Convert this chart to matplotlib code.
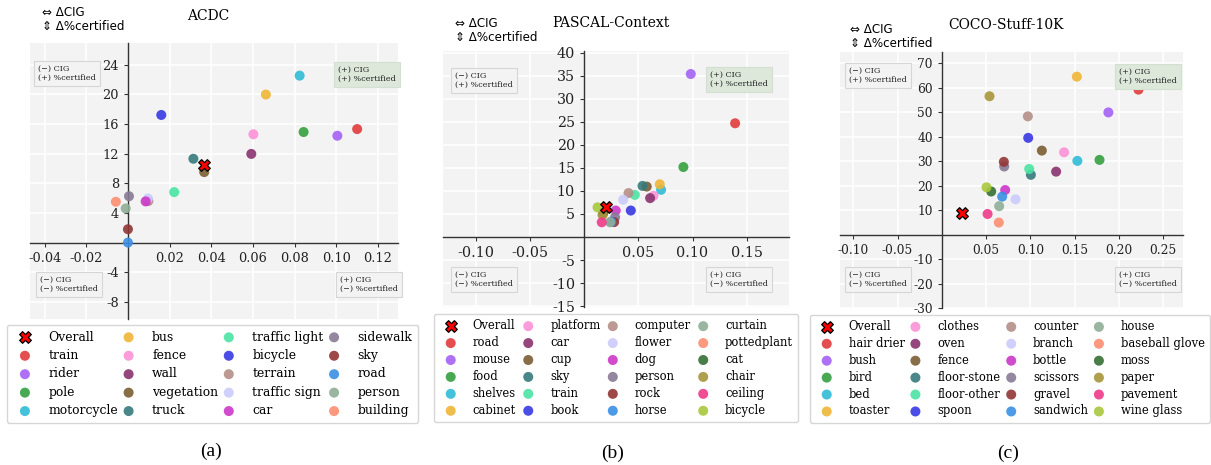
import matplotlib
matplotlib.use("Agg")
import matplotlib.pyplot as plt

plt.rcParams['axes.unicode_minus'] = False
plt.rcParams['font.family'] = ['DejaVu Serif']

# ---------------- data ----------------
palette = ["#e23b3b", "#a562f5", "#35a040", "#2fbcd6", "#efb536", "#fc92d8",
           "#8a336f", "#7b5e33", "#367a7c", "#4ae4a4", "#3838e4", "#b38f86",
           "#cccbfd", "#cc38c8", "#887a96", "#923535", "#3a8fe4", "#8fae96",
           "#fd8e70", "#357035", "#a8963a", "#ef3a8a", "#a8c83c"]

names_a = ["train", "rider", "pole", "motorcycle", "bus", "fence", "wall", "vegetation",
           "truck", "traffic light", "bicycle", "terrain", "traffic sign", "car",
           "sidewalk", "sky", "road", "person", "building"]
x_a = [0.110, 0.1005, 0.0843, 0.0824, 0.0662, 0.0602, 0.0592, 0.0366, 0.0314, 0.0222,
       0.016, 0.0098, 0.0096, 0.0085, 0.0005, 0.0, 0.0, -0.0011, -0.0058]
y_a = [15.3, 14.4, 14.9, 22.5, 19.95, 14.6, 11.95, 9.5, 11.3, 6.8, 17.2, 5.6, 5.95, 5.55,
       6.25, 1.8, 0.0, 4.6, 5.5]
overall_a = (0.0365, 10.45)

names_b = ["road", "mouse", "food", "shelves", "cabinet", "platform", "car", "cup", "sky",
           "train", "book", "computer", "flower", "dog", "person", "rock", "horse",
           "curtain", "pottedplant", "cat", "chair", "ceiling", "bicycle"]
x_b = [0.1393, 0.0984, 0.0916, 0.071, 0.0698, 0.064, 0.0609, 0.0578, 0.0539, 0.0468,
       0.0431, 0.041, 0.036, 0.0292, 0.0286, 0.0277, 0.025, 0.024, 0.0175, 0.0179,
       0.017, 0.0163, 0.0124]
y_b = [24.7, 35.4, 15.2, 10.25, 11.45, 8.95, 8.45, 10.95, 11.1, 9.15, 5.75, 9.55, 8.1,
       5.75, 4.3, 3.25, 3.3, 3.2, 5.0, 5.4, 4.8, 3.2, 6.45]
overall_b = (0.0203, 6.5)

names_c = ["hair drier", "bush", "bird", "bed", "toaster", "clothes", "oven", "fence",
           "floor-stone", "floor-other", "spoon", "counter", "branch", "bottle", "scissors",
           "gravel", "sandwich", "house", "baseball glove", "moss", "paper", "pavement",
           "wine glass"]
x_c = [0.222, 0.188, 0.178, 0.153, 0.1524, 0.138, 0.129, 0.1129, 0.1005, 0.0986, 0.0975,
       0.0971, 0.0832, 0.0715, 0.0704, 0.070, 0.0681, 0.0647, 0.0643, 0.0557, 0.0538,
       0.0516, 0.0504]
y_c = [59.2, 49.9, 30.5, 30.1, 64.5, 33.6, 25.7, 34.3, 24.4, 26.8, 39.5, 48.3, 14.4,
       18.2, 27.8, 29.7, 15.5, 11.6, 4.9, 17.6, 56.5, 8.4, 19.3]
overall_c = (0.023, 8.7)

titles = ["ACDC", "PASCAL-Context", "COCO-Stuff-10K"]
captions = ["(a)", "(b)", "(c)"]
xticks_a = [-0.04, -0.02, 0.02, 0.04, 0.06, 0.08, 0.10, 0.12]
yticks_a = [-8, -4, 4, 8, 12, 16, 20, 24]
xticks_b = [-0.10, -0.05, 0.05, 0.10, 0.15]
yticks_b = [-15, -10, -5, 5, 10, 15, 20, 25, 30, 35, 40]
xticks_c = [-0.10, -0.05, 0.05, 0.10, 0.15, 0.20, 0.25]
yticks_c = [-30, -20, -10, 10, 20, 30, 40, 50, 60, 70]

# ---------------- layout (figure pixels) ----------------
W, H = 1211, 465
fig = plt.figure(figsize=(W / 100, H / 100), dpi=100)


def fxp(px):
    return px / W


def fyp(py):
    return 1 - py / H


panels = [
    dict(names=names_a, x=x_a, y=y_a, ov=overall_a, xt=xticks_a, yt=yticks_a,
         xlim=(-0.047, 0.1296), ylim=(-10.3, 26.9), tfs=9.3,
         ax=(30, 43, 398, 319), title=(208, 16), note=(41.7, 19), cap=(210.7, 451.7),
         leg=(7, 325, 418), legfs=8.9, legls=0.44,
         boxes=[(34, 61), (400, 62), (36, 297), (402, 297)]),
    dict(names=names_b, x=x_b, y=y_b, ov=overall_b, xt=xticks_b, yt=yticks_b,
         xlim=(-0.1304, 0.189), ylim=(-15.2, 40.4), tfs=10.3,
         ax=(442.7, 51, 789, 307), title=(611, 23), note=(455, 30.5), cap=(612.7, 453),
         leg=(434, 314, 798.3), legfs=8.3, legls=0.34,
         boxes=[(451, 67.7), (771.7, 67), (451, 292), (771.7, 292)]),
    dict(names=names_c, x=x_c, y=y_c, ov=overall_c, xt=xticks_c, yt=yticks_c,
         xlim=(-0.115, 0.2726), ylim=(-30, 74.7), tfs=8.8,
         ax=(840, 51.7, 1183.3, 308), title=(1006, 25), note=(850, 36.5), cap=(1008, 453),
         leg=(810, 314.7, 1210), legfs=8.3, legls=0.34,
         boxes=[(845, 63), (1180.7, 64), (845, 292), (1180.7, 292)]),
]

quad_texts = ["(\u2212) CIG\n(+) %certified", "(+) CIG\n(+) %certified",
              "(\u2212) CIG\n(\u2212) %certified", "(+) CIG\n(\u2212) %certified"]
qfs = 5.8
pad_px = 0.5 * qfs * 100 / 72


def fmt_x(v):
    return "%.2f" % v


for idx, p in enumerate(panels):
    x0, y0, x1, y1 = p["ax"]
    ax = fig.add_axes([fxp(x0), fyp(y1), (x1 - x0) / W, (y1 - y0) / H])
    ax.set_facecolor("#f3f3f3")
    handles = []
    for i, (n, xv, yv) in enumerate(zip(p["names"], p["x"], p["y"])):
        h = ax.scatter([xv], [yv], s=52, color=palette[i], alpha=0.9,
                       edgecolors="none", label=n, zorder=3)
        handles.append(h)
    ov = ax.scatter([p["ov"][0]], [p["ov"][1]], marker="X", s=70, c="red",
                    edgecolors="black", linewidths=0.9, zorder=6, label="Overall")
    ax.set_xlim(*p["xlim"])
    ax.set_ylim(*p["ylim"])
    for s in ["top", "right"]:
        ax.spines[s].set_visible(False)
    ax.spines["left"].set_position(("data", 0))
    ax.spines["bottom"].set_position(("data", 0))
    for s in ["left", "bottom"]:
        ax.spines[s].set_color("#333333")
        ax.spines[s].set_linewidth(1.0)
        ax.spines[s].set_zorder(2.5)
    ax.set_xticks(p["xt"])
    ax.set_xticklabels([fmt_x(v) for v in p["xt"]])
    ax.set_yticks(p["yt"])
    ax.set_yticklabels([str(v) for v in p["yt"]])
    ax.tick_params(labelsize=p["tfs"], length=3, color="#333333", labelcolor="#222222")
    ax.grid(True, color="white", linewidth=1.1)
    ax.set_axisbelow(True)

    # legend below
    lx0, ltop, lx1 = p["leg"]
    ax.legend(handles=[ov] + handles, loc="upper left",
              bbox_to_anchor=(fxp(lx0), 0, (lx1 - lx0) / W, fyp(ltop)),
              bbox_transform=fig.transFigure, mode="expand", ncol=4,
              prop={"family": "DejaVu Serif", "size": p["legfs"]},
              borderaxespad=0, frameon=True, edgecolor="#cccccc", fancybox=True,
              labelspacing=p["legls"], handletextpad=0.9, borderpad=0.45,
              scatterpoints=1)

    # title, annotation, caption
    fig.text(fxp(p["title"][0]), fyp(p["title"][1]), titles[idx],
             ha="center", va="center", fontsize=10, family="DejaVu Serif")
    fig.text(fxp(p["note"][0]), fyp(p["note"][1]), "\u21d4 \u0394CIG\n\u21d5 \u0394%certified",
             ha="left", va="center", fontsize=8.6, family="DejaVu Sans", linespacing=1.1)
    fig.text(fxp(p["cap"][0]), fyp(p["cap"][1]), captions[idx],
             ha="center", va="center", fontsize=14, family="Liberation Serif")

    # quadrant boxes
    for k, (bx, by) in enumerate(p["boxes"]):
        ha = "left" if k in (0, 2) else "right"
        va = "top" if k in (0, 1) else "bottom"
        tx = bx + pad_px if ha == "left" else bx - pad_px
        ty = by + pad_px if va == "top" else by - pad_px
        if k == 1:
            bb = dict(boxstyle="square,pad=0.5", facecolor="#dde8da",
                      edgecolor="#d3dfd0", linewidth=0.8)
        else:
            bb = dict(boxstyle="square,pad=0.5", facecolor="#f3f3f3",
                      edgecolor="#d6d6d6", linewidth=0.8)
        fig.text(fxp(tx), fyp(ty), quad_texts[k], ha=ha, va=va, multialignment="left",
                 fontsize=qfs, family="DejaVu Serif", color="#222222", bbox=bb,
                 linespacing=1.2)

fig.savefig("out.png", dpi=100)
